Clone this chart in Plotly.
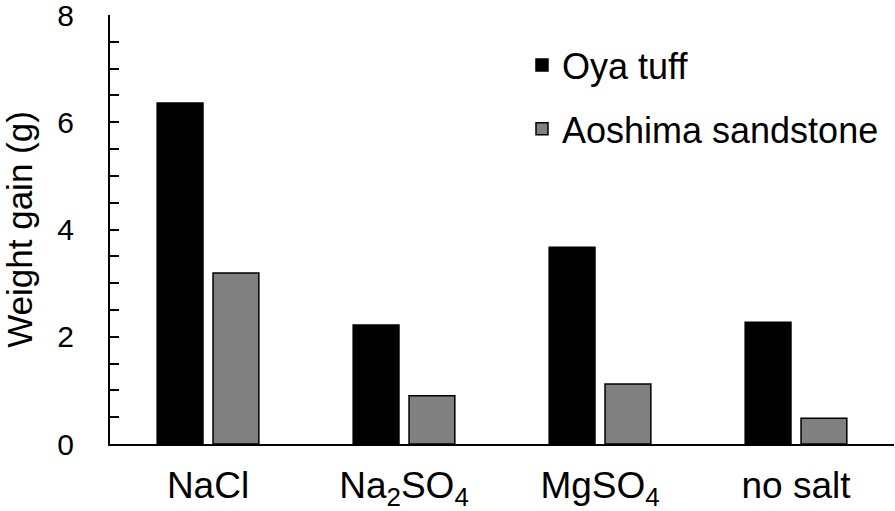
import plotly.graph_objects as go

categories = ["NaCl", "Na<sub>2</sub>SO<sub>4</sub>", "MgSO<sub>4</sub>", "no salt"]
oya_tuff = [6.36, 2.22, 3.67, 2.27]
aoshima_sandstone = [3.19, 0.90, 1.12, 0.48]
y_ticks = [0, 2, 4, 6, 8]

FONT = "Liberation Sans, Arial, sans-serif"

fig = go.Figure()
fig.add_trace(go.Bar(
    x=categories, y=oya_tuff, name="Oya tuff", legendgroup="a",
    marker=dict(color="#000000", line=dict(color="#000000", width=1.5)),
))
fig.add_trace(go.Bar(
    x=categories, y=aoshima_sandstone, name="Aoshima sandstone", legendgroup="b",
    marker=dict(color="#808080", line=dict(color="#000000", width=1.5)),
))

fig.update_layout(
    width=895, height=511,
    margin=dict(l=110, r=1, t=15, b=67),
    paper_bgcolor="white", plot_bgcolor="white",
    barmode="group", bargap=0.43, bargroupgap=0.18,
    font=dict(family=FONT, color="black", size=35),
    showlegend=True,
    legend=dict(
        x=0.5255, y=0.953, xanchor="left", yanchor="top",
        font=dict(family=FONT, size=36, color="black"),
        bgcolor="rgba(0,0,0,0)", tracegroupgap=14, traceorder="grouped",
    ),
    xaxis=dict(
        automargin=False,
        showline=True, linecolor="black", linewidth=2,
        ticks="", showgrid=False, zeroline=False,
        tickfont=dict(family=FONT, size=37, color="black"),
        ticklabelstandoff=8,
    ),
    yaxis=dict(
        automargin=False,
        range=[0, 8], tickvals=y_ticks,
        showline=True, linecolor="black", linewidth=2,
        ticks="inside", ticklen=9, tickwidth=2, tickcolor="black",
        minor=dict(dtick=0.5, ticks="inside", ticklen=9, tickwidth=2, tickcolor="black", showgrid=False),
        showgrid=False, zeroline=False,
        tickfont=dict(family=FONT, size=30, color="black"),
        ticklabelstandoff=28, ticklabeloverflow="allow",
        title=dict(text="Weight gain (g)", font=dict(family=FONT, size=35, color="black"), standoff=18),
    ),
)

fig.write_html("out.html", post_script="document.body.style.margin='0';",
               config={"displayModeBar": False})
